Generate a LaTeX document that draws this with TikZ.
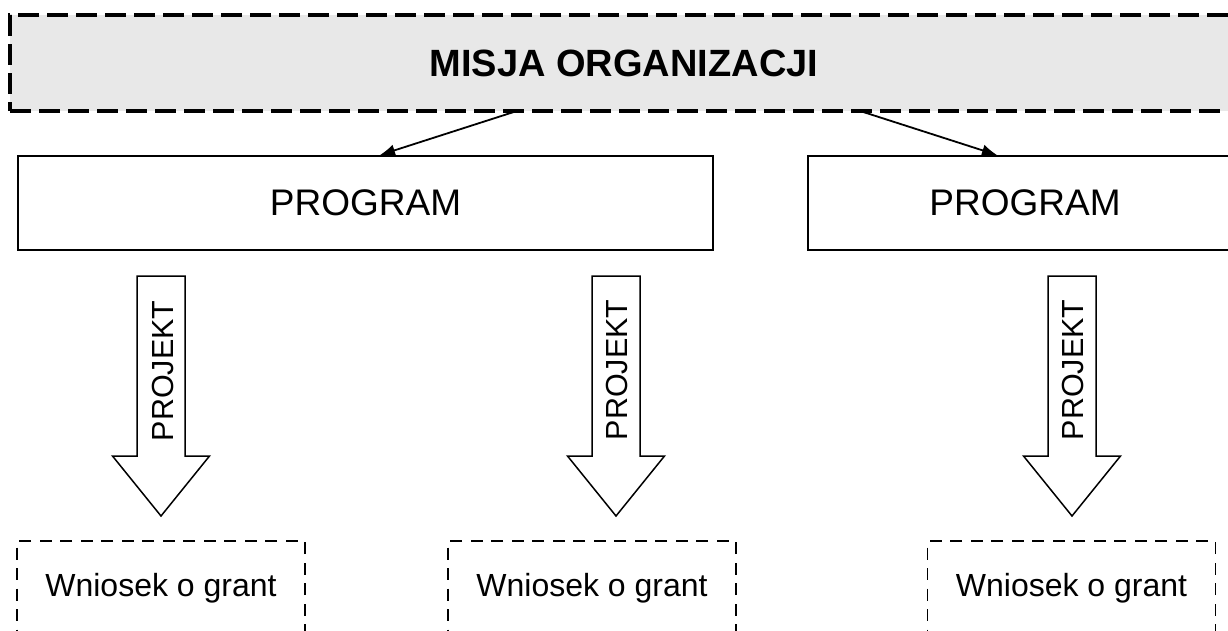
\documentclass[tikz,border=0pt]{standalone}
\usepackage{fontspec}
\setmainfont{Liberation Sans}
\usepackage{xcolor}
\usetikzlibrary{arrows.meta,positioning}
\definecolor{misjagray}{HTML}{E8E8E8}

\begin{document}
\begin{tikzpicture}[x=1pt,y=-1pt,
	misja/.style={draw,fill=misjagray,line width=4pt,dash pattern=on 21pt off 8pt,minimum width=1228pt,minimum height=96pt,font=\fontsize{38}{42}\selectfont\bfseries},
	prog/.style={draw,line width=2pt,minimum height=94pt,font=\fontsize{37}{42}\selectfont},
	wniosek/.style={draw,line width=1.3pt,dash pattern=on 12pt off 8.5pt,minimum width=288pt,minimum height=94pt,font=\fontsize{32}{36}\selectfont},
	blok/.style={draw,line width=1.5pt,fill=white},
	projlabel/.style={rotate=90,inner sep=0pt,font=\fontsize{30.5}{34}\selectfont},
	strz/.style={-{Latex[length=15pt,width=12pt]},line width=1.8pt}]
	\useasboundingbox (0,0) rectangle (1228,630);
	\clip (0,0) rectangle (1228,630);
	% misja
	\node[misja] (misja) at (624,63) {MISJA ORGANIZACJI};
	% programy
	\node[prog,minimum width=695pt] (prog1) at (365.5,203) {PROGRAM};
	\node[prog,minimum width=434pt] (prog2) at (1025,203) {PROGRAM};
	\draw[strz] ([xshift=-104pt,yshift=3pt]misja.south) -- ([xshift=14.5pt]prog1.north);
	\draw[strz] ([xshift=233pt,yshift=3pt]misja.south) -- ([xshift=-28pt]prog2.north);
	% projekty
	\draw[blok] (137,276) -- (185,276) -- (185,456) -- (209.5,456) -- (161,516) -- (112.5,456) -- (137,456) -- cycle;
	\draw[blok] (592,276) -- (640,276) -- (640,456) -- (664.5,456) -- (616,516) -- (567.5,456) -- (592,456) -- cycle;
	\draw[blok] (1048,276) -- (1096,276) -- (1096,456) -- (1120.5,456) -- (1072,516) -- (1023.5,456) -- (1048,456) -- cycle;
	\node[projlabel] (proj1) at (163,371) {PROJEKT};
	\node[projlabel] (proj2) at (617,370) {PROJEKT};
	\node[projlabel] (proj3) at (1073,370) {PROJEKT};
	% wnioski
	\node[wniosek] (wn1) at (161,588) {Wniosek o grant};
	\node[wniosek] (wn2) at (592,588) {Wniosek o grant};
	\node[wniosek] (wn3) at (1071.5,588) {Wniosek o grant};
\end{tikzpicture}
\end{document}
